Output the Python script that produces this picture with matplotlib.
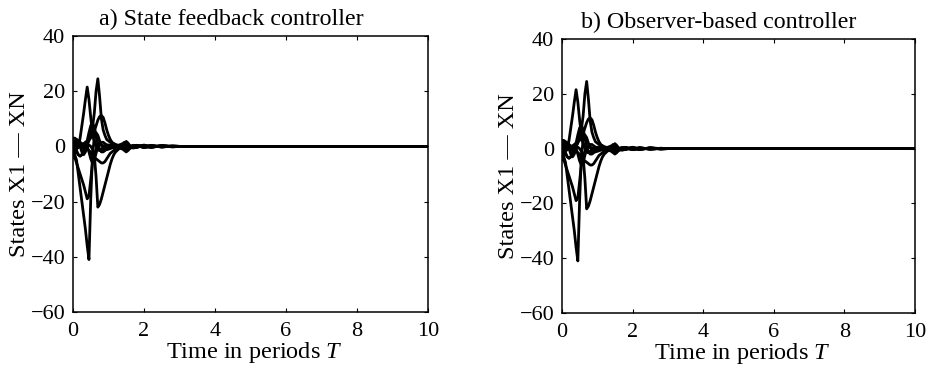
import matplotlib
matplotlib.use("Agg")
import matplotlib.pyplot as plt

plt.rcParams['font.family'] = ['Liberation Serif', 'DejaVu Serif']
plt.rcParams['mathtext.fontset'] = 'custom'
plt.rcParams['mathtext.rm'] = 'Liberation Serif'
plt.rcParams['mathtext.it'] = 'Liberation Serif:italic'

# time grid (periods T)
t = [0, .05, .1, .15, .2, .25, .3, .35, .4, .45, .5, .55, .6, .65, .7, .75, .8, .85, .9, .95,
     1.0, 1.05, 1.1, 1.15, 1.2, 1.3, 1.4, 1.45, 1.5, 1.55, 1.6, 1.7, 1.8, 2.0, 2.2, 2.5, 2.8, 3.0, 10]

# state trajectories
x1 = [-1, -3, -5, -10, -15, -20, -25, -30, -36, -41, -19, -3, 3, 5, 4, 2, 0.5, -0.5, -1, -1.2,
      -1, -0.8, -0.5, -0.2, 0, 0.5, 1, 1.5, 1.2, 0.4, -0.3, -0.6, -0.3, 0.5, -0.4, 0.3, -0.2, 0, 0]
x2 = [-2, -4, -6, -8, -10, -12, -14, -16.5, -19, -18, -12, -6, -3, -1, 0, 0.5, 0.5, 0.3, 0, -0.2,
      -0.3, -0.3, -0.2, -0.1, 0, 0.2, 0.4, 0.6, 0.5, 0.2, -0.1, -0.3, -0.1, 0.3, -0.3, 0.2, -0.1, 0, 0]
x3 = [2, 1, 0.5, -0.5, 3, 7.5, 12, 17, 21.5, 17, 10.5, 5, 2, 0.5, -1, -1.5, -1.5, -1, -0.5, 0,
      0.3, 0.5, 0.5, 0.3, 0.2, 0, -0.3, -0.5, -0.8, -0.5, 0, 0.4, 0.2, -0.4, 0.3, -0.2, 0.1, 0, 0]
x4 = [1, 2, 2.5, 2, 1.5, 1, 0.5, 0.5, 1, 2, 4, 7, 12, 20, 24.5, 18, 10, 6, 4, 2.5,
      2, 1.5, 1.2, 1, 0.5, 0, -0.5, -1, -1.5, -1, -0.5, 0, 0.4, -0.3, -0.3, 0.3, 0, 0, 0]
x5 = [0, 1, 1.5, 1, 0.5, 0.5, 1, 1.5, 2, 2.5, 3, 4, 5.5, 7.5, 9.5, 10.8, 11.2, 10.5, 8.5, 6,
      4, 2.5, 1.5, 1, 0.7, 0.3, 0.5, 1, 1.8, 1.2, 0.3, -0.4, -0.3, 0.3, -0.2, 0.2, -0.1, 0, 0]
x6 = [0, -1, -2, -3, -3.5, -3, -2, -1, 0, 0.5, 0, -1, -3, -11, -22, -21, -19, -16.5, -14, -11.5,
      -9, -6.5, -4.5, -3, -2, -0.8, -0.5, -0.8, -1.5, -1, -0.3, 0.3, 0.2, -0.3, 0.3, -0.2, 0.1, 0, 0]
x7 = [-3, -2, -1, 0, 0.5, 0.5, 0, -0.5, -1, -1.5, -2, -3, -4, -4.5, -5, -5.5, -6, -6, -5.5, -4.5,
      -3.5, -2.5, -2, -1.5, -1, -0.5, -1, -1.5, -2, -1.5, -0.8, 0, 0.4, -0.4, 0.2, -0.2, 0.1, 0, 0]
x8 = [3, 3, 2.5, 2, 1, 0, -1, 0, 2, 5, 7.5, 8.5, 7, 4, 1, -1, -2, -2, -1.5, -1,
      -0.5, 0, 0.3, 0.4, 0.3, 0.1, 0.3, 0.8, 1.2, 0.8, 0.2, -0.3, -0.3, 0.3, 0, 0.1, 0, 0, 0]
x9 = [1, 0, -1.5, -3, -3.5, -3, -1.5, 0, 0, -2, -4.5, -6, -5, -2.5, 0, 1, 1.5, 1.5, 1, 0.5,
      0, -0.3, -0.5, -0.5, -0.3, 0, 0.5, 0.2, -0.5, -1, -0.5, 0.3, 0.3, -0.2, 0.2, -0.1, 0, 0, 0]
x10 = [-4, -2, 0, 1, 0, -2, -3, -2, 0, 3, 6, 5, 2, 0, -1, -1.5, -1, -0.5, 0, 0.5,
       0.5, 0.3, 0, -0.2, -0.3, -0.2, 0.5, 1, 0.5, -0.3, -0.6, -0.2, 0.3, 0.2, 0.2, -0.1, 0.1, 0, 0]

states_a = [x1, x2, x3, x4, x5, x6, x7, x8, x9, x10]
states_b = [x1, x2, x3, x4, x5, x6, x7, x8, x9, x10]

titles = ["a) State feedback controller", "b) Observer-based controller"]
xlabel = "Time in periods $T$"
ylabel = "States X1 — XN"
xticks = [0, 2, 4, 6, 8, 10]
yticks = [-60, -40, -20, 0, 20, 40]

fig = plt.figure(figsize=(9.31, 3.70), dpi=100)
positions = [[0.0784, 0.1568, 0.3813, 0.7459], [0.6036, 0.1541, 0.3792, 0.7405]]

for pos, title, states in zip(positions, titles, [states_a, states_b]):
    ax = fig.add_axes(pos)
    for s in states:
        ax.plot(t, s, color='black', linewidth=2.0, solid_joinstyle='round')
    ax.set_xlim(0, 10)
    ax.set_ylim(-60, 40)
    ax.set_xticks(xticks)
    ax.set_yticks(yticks)
    ax.tick_params(direction='in', length=3, width=0.8, top=True, right=True,
                   labelsize=16, pad=5.5)
    ax.tick_params(axis='x', pad=7.5)
    for sp in ax.spines.values():
        sp.set_linewidth(1.1)
    ax.text(0.445, 1.04, title, transform=ax.transAxes, ha='center', va='baseline', fontsize=17.3)
    ax.text(0.51, -0.167, xlabel, transform=ax.transAxes, ha='center', va='baseline', fontsize=17.5)
    ax.text(-0.152, 0.5, ylabel, transform=ax.transAxes, ha='center', va='center',
            rotation=90, fontsize=17.5)

fig.savefig("out.png", dpi=100)
